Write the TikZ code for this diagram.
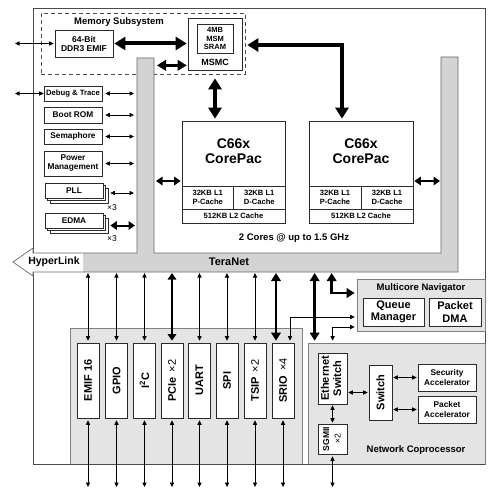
\documentclass[tikz,border=0pt]{standalone}
\usepackage{fontspec}
\setmainfont{Liberation Sans}
\usetikzlibrary{arrows.meta}
\definecolor{tgray}{HTML}{D3D3D3}
\definecolor{lgray}{HTML}{E4E4E4}
\definecolor{edge}{HTML}{2A2A2A}
\newcommand\myfs[2]{\bfseries\fontsize{#1}{#2}\selectfont}
\begin{document}
\begin{tikzpicture}[x=1pt,y=-1pt,
  box/.style={draw=edge,line width=0.7pt,fill=white,inner sep=0pt,align=center,font=\myfs{8.3}{9}},
  wh/.style 2 args={minimum width=#1pt,minimum height=#2pt},
  lbl/.style={inner sep=0pt,align=center},
  tarr/.style={line width=0.7pt,{Triangle[length=4.5pt,width=4.2pt]}-{Triangle[length=4.5pt,width=4.2pt]}},
  marr/.style={line width=2pt,{Triangle[length=6.5pt,width=8.5pt]}-{Triangle[length=6.5pt,width=8.5pt]}},
  Marr/.style={line width=2.6pt,line join=miter,{Triangle[length=8pt,width=9.5pt]}-{Triangle[length=8pt,width=9.5pt]}},
  Tarr/.style={line width=4pt,line join=miter,{Triangle[length=11pt,width=13pt]}-{Triangle[length=11pt,width=13pt]}},
  sarr/.style={line width=3pt,{Triangle[length=9pt,width=10.5pt]}-{Triangle[length=9pt,width=10.5pt]}}]
\useasboundingbox (0,0) rectangle (500,495);

% chip outline
\node[draw=edge!85,line width=0.8pt,inner sep=0pt,wh={452}{456}] (chip) at (259,236) {};

% memory subsystem
\node[draw=edge!85,dashed,dash pattern=on 4pt off 3pt,line width=0.7pt,inner sep=0pt,wh={204}{61}] (mem) at (143,43.5) {};
\node[lbl,font=\myfs{9.5}{10}] (memt) at (119,22) {Memory Subsystem};

% TeraNet
\fill[tgray] (137,58) -- (154,58) -- (154,253) -- (441,253) -- (441,57) -- (458,57) -- (458,272) -- (83,272) -- (83,253) -- (137,253) -- cycle;
\fill[white] (13,262) -- (33,248) -- (33,253) -- (83,253) -- (83,272) -- (33,272) -- (33,276) -- cycle;
\draw[edge!70,line width=0.7pt,line join=miter] (137,58) -- (154,58) -- (154,253) -- (441,253) -- (441,57) -- (458,57) -- (458,272) -- (33,272) -- (33,276) -- (13,262) -- (33,248) -- (33,253) -- (137,253) -- cycle;
\coordinate (larmW) at (137,0);
\coordinate (larm) at (154,0);
\coordinate (rarm) at (441,0);
\coordinate (tnb) at (0,272);
\coordinate (bot) at (0,487);
\coordinate (lft) at (15,0);
\node[lbl,font=\myfs{11}{12}] (tn) at (229,262) {TeraNet};
\node[lbl,font=\myfs{10.5}{12}] (hl) at (54,262) {HyperLink};

% bottom containers
\node[draw=edge!60,fill=lgray,line width=0.7pt,inner sep=0pt,wh={232}{136}] (pbg) at (186,396) {};
\node[draw=edge!60,fill=lgray,line width=0.7pt,inner sep=0pt,wh={128}{52}] (nav) at (421,305) {};
\node[draw=edge!60,fill=lgray,line width=0.7pt,inner sep=0pt,wh={177}{121}] (ncp) at (396.5,403.5) {};
\draw[edge!85,line width=0.8pt] (chip.south west) -- (chip.south east);

% memory blocks
\node[box,wh={58}{27},font=\myfs{8.5}{9}] (ddr) at (84,43.5) {64-Bit\\DDR3 EMIF};
\node[box,wh={54}{52}] (msmc) at (215,44) {};
\node[box,wh={36}{29},font=\myfs{7.5}{8.5}] (msm) at (215,38.5) {4MB\\MSM\\SRAM};
\node[lbl,font=\myfs{9}{10}] (msmct) at (215,62) {MSMC};

% left column
\node[box,wh={58}{15},font=\myfs{7.7}{9}] (dbg) at (73,93.5) {Debug \& Trace};
\node[box,wh={58}{16}] (boot) at (73,115) {Boot ROM};
\node[box,wh={58}{15}] (sema) at (73,136.5) {Semaphore};
\node[box,wh={58}{25}] (pwr) at (73,163.5) {Power\\Management};
\node[box,wh={58}{15}] (pll3) at (79,195.5) {};
\node[box,wh={58}{15}] (pll2) at (76.5,193) {};
\node[box,wh={58}{15}] (pll) at (74,190.5) {PLL};
\node[lbl,font=\fontsize{8.5}{9}\selectfont] (pllx) at (112,208) {×3};
\node[box,wh={58}{15}] (edma3) at (79,225.5) {};
\node[box,wh={58}{15}] (edma2) at (76.5,223) {};
\node[box,wh={58}{15}] (edma) at (74,220.5) {EDMA};
\node[lbl,font=\fontsize{8.5}{9}\selectfont] (edmax) at (112,239) {×3};

% CorePacs
\node[box,wh={103}{102}] (cp1) at (233.5,172) {};
\node[lbl,font=\myfs{14}{15}] (cp1t) at (233.5,151) {C66x\\CorePac};
\node[box,wh={51.5}{23},font=\myfs{7.6}{9.3}] (cp1p) at (207.75,197.5) {32KB L1\\P-Cache};
\node[box,wh={51.5}{23},font=\myfs{7.6}{9.3}] (cp1d) at (259.25,197.5) {32KB L1\\D-Cache};
\node[box,wh={103}{14},font=\myfs{7.6}{9}] (cp1l) at (233.5,216) {512KB L2 Cache};
\node[box,wh={104}{102}] (cp2) at (361,172) {};
\node[lbl,font=\myfs{14}{15}] (cp2t) at (361,151) {C66x\\CorePac};
\node[box,wh={52}{23},font=\myfs{7.6}{9.3}] (cp2p) at (335,197.5) {32KB L1\\P-Cache};
\node[box,wh={52}{23},font=\myfs{7.6}{9.3}] (cp2d) at (387,197.5) {32KB L1\\D-Cache};
\node[box,wh={104}{14},font=\myfs{7.6}{9}] (cp2l) at (361,216) {512KB L2 Cache};
\node[lbl,font=\myfs{9.5}{10}] (cores) at (294,238) {2 Cores @ up to 1.5 GHz};

% peripherals
\tikzset{per/.style={box,wh={22}{75},font=\myfs{11}{12}}}
\node[per] (emif) at (88,380.5) {\rotatebox{90}{EMIF 16}};
\node[per] (gpio) at (116.5,380.5) {\rotatebox{90}{GPIO}};
\node[per] (i2c) at (144.5,380.5) {\rotatebox{90}{I\textsuperscript{2}C}};
\node[per] (pcie) at (172,380.5) {\rotatebox{90}{PCIe {\mdseries\,×2}}};
\node[per] (uart) at (199.5,380.5) {\rotatebox{90}{UART}};
\node[per] (spi) at (227,380.5) {\rotatebox{90}{SPI}};
\node[per] (tsip) at (255,380.5) {\rotatebox{90}{TSIP {\mdseries\,×2}}};
\node[per] (srio) at (283,380.5) {\rotatebox{90}{SRIO {\mdseries\,×4}}};

% navigator
\node[lbl,font=\myfs{9.5}{10}] (navt) at (421,288) {Multicore Navigator};
\node[box,wh={61}{28},font=\myfs{11}{12.3}] (qm) at (393.5,312) {Queue\\Manager};
\node[box,wh={52}{28},font=\myfs{11}{13}] (dma) at (455,312) {Packet\\DMA};

% network coprocessor
\node[box,wh={29}{51},font=\myfs{11}{12.3}] (eth) at (332.5,378.5) {\rotatebox{90}{\begin{tabular}{@{}c@{}}Ethernet\\Switch\end{tabular}}};
\node[box,wh={29}{30},font=\myfs{8.5}{11.5}] (sgmii) at (332.5,439) {\rotatebox{90}{\begin{tabular}{@{}c@{}}SGMII\\{\mdseries ×2}\end{tabular}}};
\node[box,wh={23}{55},font=\myfs{11}{12}] (sw) at (380.5,392.5) {\rotatebox{90}{Switch}};
\node[box,wh={58}{27},font=\myfs{8.3}{10}] (sec) at (447,377.5) {Security\\Accelerator};
\node[box,wh={58}{27},font=\myfs{8.3}{10}] (pa) at (447,409.5) {Packet\\Accelerator};
\node[lbl,font=\myfs{9.5}{10}] (ncpt) at (416,450) {Network Coprocessor};

% ---- connectors ----
\draw[tarr,shorten >=1pt] (lft |- ddr.west) -- (ddr.west);
\draw[tarr] (lft |- dbg.west) -- (dbg.west);
\draw[Tarr,shorten <=1pt,shorten >=1pt] (ddr.east) -- (ddr.east -| msmc.west);
\coordinate (m1) at ([yshift=5pt]msmc.south west);
\draw[sarr,shorten <=1pt,shorten >=3pt] (m1) -- (m1 -| larm);
\draw[Tarr,shorten <=8pt,shorten >=2pt] (msmc.south) -- (msmc.south |- cp1.north);
\coordinate (m2) at ([yshift=-1pt]msmc.east);
\coordinate (k) at (342,0);
\draw[Tarr,shorten <=5pt,shorten >=2pt] (m2) -- (m2 -| k) -- (k |- cp2.north);
\coordinate (c1) at ([yshift=-9pt]cp1.west);
\draw[marr,shorten <=1pt,shorten >=2pt] (c1) -- (c1 -| larm);
\coordinate (c2) at ([yshift=-9pt]cp2.east);
\draw[marr,shorten <=1pt,shorten >=1pt] (c2) -- (c2 -| rarm);

\foreach \b in {dbg,boot,sema,pwr}
  \draw[tarr,shorten <=3pt,shorten >=3pt] (\b.east) -- (\b.east -| larmW);
\draw[tarr,shorten <=2pt,shorten >=3pt] (pll2.east -| pll3.east) -- (pll2.east -| larmW);
\draw[marr,shorten <=2pt,shorten >=2pt] (edma3.east) -- (edma3.east -| larmW);

\foreach \p in {emif,gpio,i2c,uart,spi,tsip}
  \draw[tarr,shorten <=1pt,shorten >=2pt] (\p.north |- tnb) -- (\p.north);
\draw[marr,shorten <=1pt,shorten >=2pt] (pcie.north |- tnb) -- (pcie.north);
\foreach \p in {emif,gpio,i2c,pcie,uart,spi,tsip,srio}
  \draw[tarr,shorten <=2pt] (\p.south) -- (\p.south |- bot);

\coordinate (s1) at ([xshift=-7pt]srio.north);
\draw[Marr,shorten <=1pt,shorten >=2pt] (s1 |- tnb) -- (s1);
\coordinate (s2) at ([xshift=7pt]srio.north);
\coordinate (q1) at ([yshift=-12pt]nav.west);
\draw[tarr,shorten <=2pt,shorten >=2pt] (s2) -- (s2 |- q1) -- (q1);

\coordinate (n1) at ([xshift=7pt]ncp.north west);
\draw[Marr,shorten <=1pt,shorten >=2pt] (n1 |- tnb) -- (n1);
\coordinate (n2) at ([xshift=24pt]ncp.north west);
\coordinate (q2) at ([yshift=12pt]nav.west);
\draw[Marr,shorten <=1pt,shorten >=2pt] (n2 |- tnb) -- (n2 |- q2) -- (q2);
\coordinate (n3) at ([xshift=25pt]ncp.north west);
\coordinate (q3) at ([yshift=-22pt]nav.west);
\draw[tarr,shorten <=2pt,shorten >=2pt] (n3) -- (n3 |- q3) -- (q3);

\draw[tarr,shorten <=1pt,shorten >=1pt] (eth.south) -- (sgmii.north);
\draw[tarr,shorten <=2pt] (sgmii.south) -- (sgmii.south |- bot);
\draw[tarr,shorten <=1pt,shorten >=1pt] (sw.west -| eth.east) -- (sw.west);
\draw[tarr,shorten <=1pt,shorten >=1pt] (sec.west -| sw.east) -- (sec.west);
\draw[tarr,shorten <=1pt,shorten >=1pt] (pa.west -| sw.east) -- (pa.west);
\end{tikzpicture}
\end{document}
